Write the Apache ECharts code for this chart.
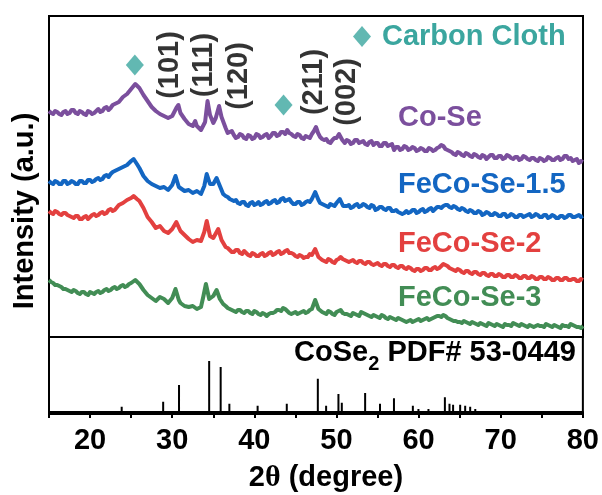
<!DOCTYPE html>
<html>
<head>
<meta charset="utf-8">
<script src="https://cdn.jsdelivr.net/npm/echarts@6/dist/echarts.min.js"></script>
<style>
html, body { margin: 0; padding: 0; background: #fff; }
#xrd { width: 602px; height: 495px; }
</style>
</head>
<body>
<div id="xrd"></div>
<script>
// XRD patterns, [2theta, intensity a.u.]
let coSe = [[15,226],[15.5,223],[16,225],[16.5,222],[17,226],[17.5,224],[18,227],[18.5,223],[19,225],[19.5,222],[20,225],[20.5,224],[21,228],[21.5,226],[22,230],[22.5,229],[23,233],[23.5,235],[24,240],[24.5,243],[25,248],[25.5,253],[26,249],[26.5,242],[27,236],[27.5,230],[28,226],[28.5,223],[29,221],[29.5,219],[30,221],[30.5,229],[30.75,232],[31,224],[31.5,218],[32,213],[32.5,211],[32.8,216],[33,211],[33.5,207],[34,215],[34.3,236],[34.6,222],[35,214],[35.3,219],[35.7,231],[36,220],[36.5,209],[37,205],[37.5,202],[38,200],[38.5,202],[39,198],[39.5,201],[40,199],[40.5,202],[41,200],[41.5,203],[42,201],[42.5,204],[43,202],[43.5,205],[44,207],[44.5,203],[45,200],[45.5,202],[46,198],[46.5,200],[47,203],[47.5,210],[48,200],[48.5,197],[49,195],[49.5,197],[50,199],[50.3,203],[50.7,197],[51,194],[51.5,196],[52,194],[52.5,197],[53,195],[53.5,193],[54,195],[54.5,192],[55,194],[55.5,191],[56,194],[56.5,192],[57,187],[57.5,190],[58,188],[58.5,190],[59,188],[59.5,189],[60,187],[60.5,188],[61,186],[61.5,188],[62,187],[62.5,190],[63,191],[63.5,187],[64,185],[64.5,182],[65,184],[65.5,181],[66,183],[66.5,180],[67,182],[67.5,179],[68,181],[68.5,180],[69,182],[69.5,179],[70,181],[70.5,179],[71,181],[71.5,178],[72,180],[72.5,178],[73,180],[73.5,177],[74,179],[74.5,176],[75,178],[75.5,177],[76,179],[76.5,177],[77,180],[77.5,178],[78,181],[78.5,179],[79,177],[79.5,174],[80,175]];
// noise read between the half-degree points
let coSeFine = [[15.25,224],[15.75,226],[16.25,223],[16.75,225],[17.25,223],[17.75,227],[18.25,224],[18.75,226],[19.25,223],[19.75,226],[20.25,223],[20.75,226],[21.25,225],[21.75,229],[22.25,227],[22.75,232],[36.75,204],[37.25,206],[37.75,199],[38.25,203],[38.75,199],[39.25,202],[39.75,198],[40.25,203],[40.75,199],[41.25,202],[41.75,199],[42.25,204],[42.75,201],[43.25,205],[43.75,203],[44.25,204],[44.75,201],[45.25,203],[45.75,199],[46.25,201],[46.75,199],[47.25,206],[47.75,204],[48.25,198],[48.75,198],[49.25,194],[49.75,199],[51.25,197],[51.75,193],[52.25,197],[52.75,194],[53.25,196],[53.75,192],[54.25,196],[54.75,194],[55.25,191],[55.75,194],[56.25,191],[56.75,193],[57.25,190],[57.75,187],[58.25,191],[58.75,187],[59.25,190],[59.75,186],[60.25,189],[60.75,186],[61.25,189],[61.75,186],[62.25,189],[62.75,192],[63.25,188],[63.75,186],[64.25,183],[64.75,185],[65.25,182],[65.75,184],[66.25,181],[66.75,183],[67.25,180],[67.75,182],[68.25,178],[68.75,182],[69.25,179],[69.75,181],[70.25,178],[70.75,182],[71.25,179],[71.75,180],[72.25,177],[72.75,181],[73.25,178],[73.75,179],[74.25,177],[74.75,179],[75.25,176],[75.75,180],[76.25,177],[76.75,179],[77.25,177],[77.75,181],[78.25,178],[78.75,176],[79.25,178],[79.75,176]];

let feCoSe15 = [[15,156],[15.5,153],[16,155],[16.5,153],[17,156],[17.5,154],[18,155],[18.5,153],[19,156],[19.5,154],[20,157],[20.5,156],[21,159],[21.5,158],[22,162],[22.5,163],[23,166],[23.5,168],[24,170],[24.5,172],[25,176],[25.3,178],[25.7,173],[26,169],[26.5,161],[27,156],[27.5,153],[28,151],[28.5,149],[29,150],[29.5,147],[30,152],[30.4,161],[30.8,150],[31,148],[31.5,146],[32,147],[32.5,144],[33,146],[33.5,143],[33.9,151],[34.2,163],[34.6,153],[35,153],[35.4,159],[35.8,151],[36.2,143],[36.5,141],[37,138],[37.5,136],[38,134],[38.5,135],[39,132],[39.5,134],[40,132],[40.5,135],[41,133],[41.5,136],[42,134],[42.5,137],[43,135],[43.5,139],[44,137],[44.5,135],[45,133],[45.5,135],[46,133],[46.5,136],[47,138],[47.4,145],[47.8,137],[48,134],[48.5,132],[49,130],[49.5,132],[50,134],[50.4,138],[50.8,131],[51,130],[51.5,132],[52,130],[52.5,133],[53,131],[53.5,132],[54,129],[54.5,131],[55,128],[55.5,130],[56,127],[56.5,129],[57,126],[57.5,125],[58,123],[58.5,126],[59,125],[59.5,127],[60,125],[60.5,128],[61,126],[61.5,129],[62,128],[62.5,130],[63,131],[63.5,132],[64,129],[64.5,130],[65,127],[65.5,128],[66,125],[66.5,126],[67,124],[67.5,125],[68,123],[68.5,124],[69,122],[69.5,123],[70,121],[70.5,123],[71,121],[71.5,122],[72,120],[72.5,122],[73,121],[73.5,123],[74,121],[74.5,122],[75,120],[75.5,122],[76,120],[76.5,121],[77,119],[77.5,121],[78,120],[78.5,122],[79,120],[79.5,122],[80,121]];
let feCoSe15Fine = [[15.25,154],[15.75,156],[16.25,153],[16.75,156],[17.25,153],[17.75,156],[18.25,153],[18.75,156],[19.25,154],[19.75,157],[20.25,155],[20.75,158],[21.25,157],[21.75,161],[22.25,160],[22.75,165],[36.75,140],[37.25,137],[37.75,137],[38.25,133],[38.75,135],[39.25,131],[39.75,135],[40.25,133],[40.75,132],[41.25,135],[41.75,133],[42.25,136],[42.75,134],[43.25,138],[43.75,136],[44.25,138],[44.75,133],[45.25,135],[45.75,132],[46.25,135],[46.75,135],[48.25,133],[48.75,131],[49.25,133],[49.75,131],[51.25,131],[51.75,129],[52.25,132],[52.75,130],[53.25,133],[53.75,130],[54.25,132],[54.75,127],[55.25,130],[55.75,128],[56.25,129],[56.75,126],[57.25,127],[57.75,124],[58.25,124],[58.75,124],[59.25,127],[59.75,124],[60.25,127],[60.75,125],[61.25,128],[61.75,126],[62.25,130],[62.75,129],[63.25,132],[63.75,130],[64.25,131],[64.75,128],[65.25,129],[65.75,126],[66.25,127],[66.75,124],[67.25,126],[67.75,122],[68.25,125],[68.75,122],[69.25,124],[69.75,121],[70.25,123],[70.75,120],[71.25,123],[71.75,120],[72.25,122],[72.75,120],[73.25,122],[73.75,120],[74.25,123],[74.75,120],[75.25,122],[75.75,119],[76.25,122],[76.75,119],[77.25,121],[77.75,119],[78.25,122],[78.75,120],[79.25,121],[79.75,120]];

let feCoSe2 = [[15,126],[15.5,123],[16,125],[16.5,122],[17,124],[17.5,121],[18,119],[18.5,121],[19,118],[19.5,121],[20,120],[20.5,123],[21,122],[21.5,125],[22,124],[22.5,128],[23,127],[23.5,132],[24,134],[24.5,137],[25,139],[25.3,141],[25.7,138],[26,136],[26.5,129],[27,120],[27.5,115],[28,109],[28.5,111],[29,106],[29.5,104],[30,108],[30.5,115],[31,106],[31.5,102],[32,98],[32.5,95],[33,97],[33.5,96],[33.9,105],[34.2,116],[34.6,101],[35,99],[35.6,108],[36,97],[36.5,90],[37,87],[37.5,85],[38,87],[38.5,83],[39,84],[39.5,81],[40,83],[40.5,81],[41,84],[41.5,82],[42,85],[42.5,83],[43,86],[43.5,84],[44,87],[44.5,84],[45,81],[45.5,82],[46,79],[46.5,80],[47,82],[47.4,88],[47.8,80],[48,78],[48.5,76],[49,78],[49.5,75],[50,77],[50.5,80],[51,77],[51.5,75],[52,77],[52.5,74],[53,76],[53.5,73],[54,75],[54.5,72],[55,74],[55.5,71],[56,73],[56.5,70],[57,72],[57.5,69],[58,71],[58.5,68],[59,69],[59.5,66],[60,68],[60.5,67],[61,69],[61.5,67],[62,70],[62.5,69],[63,73],[63.5,71],[64,68],[64.5,66],[65,67],[65.5,64],[66,66],[66.5,63],[67,65],[67.5,62],[68,64],[68.5,61],[69,63],[69.5,61],[70,62],[70.5,60],[71,62],[71.5,60],[72,61],[72.5,59],[73,61],[73.5,59],[74,60],[74.5,58],[75,60],[75.5,58],[76,59],[76.5,57],[77,59],[77.5,57],[78,59],[78.5,57],[79,58],[79.5,56],[80,57]];
let feCoSe2Fine = [[15.25,124],[15.75,126],[16.25,123],[16.75,124],[17.25,122],[17.75,120],[18.25,121],[18.75,118],[19.25,120],[19.75,118],[20.25,122],[20.75,121],[21.25,124],[21.75,123],[22.25,127],[22.75,126],[36.75,89],[37.25,85],[37.75,87],[38.25,84],[38.75,86],[39.25,82],[39.75,84],[40.25,81],[40.75,83],[41.25,81],[41.75,84],[42.25,82],[42.75,85],[43.25,83],[43.75,86],[44.25,84],[44.75,83],[45.25,80],[45.75,81],[46.25,80],[46.75,83],[48.25,77],[48.75,75],[49.25,77],[49.75,74],[50.25,78],[50.75,78],[51.25,76],[51.75,76],[52.25,75],[52.75,76],[53.25,74],[53.75,75],[54.25,73],[54.75,73],[55.25,72],[55.75,73],[56.25,71],[56.75,72],[57.25,70],[57.75,71],[58.25,69],[58.75,70],[59.25,67],[59.75,68],[60.25,66],[60.75,69],[61.25,67],[61.75,69],[62.25,68],[62.75,71],[63.25,72],[63.75,69],[64.25,67],[64.75,68],[65.25,65],[65.75,66],[66.25,64],[66.75,65],[67.25,63],[67.75,64],[68.25,62],[68.75,63],[69.25,61],[69.75,63],[70.25,60],[70.75,62],[71.25,60],[71.75,62],[72.25,59],[72.75,61],[73.25,59],[73.75,61],[74.25,58],[74.75,60],[75.25,58],[75.75,60],[76.25,57],[76.75,59],[77.25,57],[77.75,59],[78.25,57],[78.75,58],[79.25,56],[79.75,58]];

let feCoSe3 = [[15,57],[15.5,54],[16,52],[16.5,50],[17,48],[17.5,46],[18,47],[18.5,44],[19,45],[19.5,43],[20,45],[20.5,43],[21,46],[21.5,45],[22,48],[22.5,47],[23,50],[23.5,49],[24,52],[24.5,51],[25,54],[25.5,57],[26,53],[26.5,47],[27,42],[27.5,39],[28,36],[28.5,40],[29,38],[29.5,34],[30,39],[30.4,48],[30.8,37],[31,34],[31.5,31],[32,30],[32.5,31],[33,28],[33.5,30],[33.8,41],[34.1,53],[34.5,38],[35,41],[35.4,47],[35.8,38],[36.2,33],[36.5,31],[37,28],[37.5,26],[38,27],[38.5,25],[39,26],[39.5,24],[40,26],[40.5,23],[41,24],[41.5,21],[42,24],[42.5,25],[43,27],[43.5,29],[44,26],[44.5,23],[45,25],[45.5,24],[46,26],[46.5,25],[47,28],[47.4,37],[47.8,28],[48,26],[48.5,24],[49,26],[49.5,23],[50,25],[50.5,27],[51,23],[51.5,22],[52,24],[52.5,22],[53,25],[53.5,23],[54,21],[54.5,22],[55,20],[55.5,22],[56,19],[56.5,20],[57,18],[57.5,19],[58,17],[58.5,15],[59,17],[59.5,16],[60,18],[60.5,17],[61,19],[61.5,18],[62,20],[62.5,21],[63,22],[63.5,19],[64,17],[64.5,16],[65,15],[65.5,16],[66,14],[66.5,15],[67,13],[67.5,14],[68,12],[68.5,14],[69,12],[69.5,13],[70,11],[70.5,13],[71,12],[71.5,14],[72,12],[72.5,13],[73,11],[73.5,12],[74,10],[74.5,12],[75,11],[75.5,13],[76,11],[76.5,12],[77,10],[77.5,12],[78,11],[78.5,13],[79,11],[79.5,10],[80,11]];
let feCoSe3Fine = [[15.25,55],[15.75,52],[16.25,51],[16.75,48],[17.25,47],[17.75,45],[18.25,46],[18.75,43],[19.25,45],[19.75,42],[20.25,44],[20.75,45],[21.25,44],[21.75,47],[22.25,46],[22.75,49],[23.25,48],[23.75,51],[24.25,50],[24.75,53],[36.75,29],[37.25,27],[37.75,25],[38.25,27],[38.75,24],[39.25,26],[39.75,23],[40.25,25],[40.75,22],[41.25,23],[41.75,23],[42.25,24],[42.75,27],[43.25,26],[43.75,28],[44.25,24],[44.75,24],[45.25,23],[45.75,25],[46.25,24],[46.75,27],[48.25,25],[48.75,23],[49.25,25],[49.75,22],[50.25,26],[50.75,24],[51.25,23],[51.75,21],[52.25,23],[52.75,21],[53.25,24],[53.75,22],[54.25,20],[54.75,21],[55.25,19],[55.75,21],[56.25,18],[56.75,19],[57.25,17],[57.75,18],[58.25,16],[58.75,16],[59.25,15],[59.75,17],[60.25,16],[60.75,18],[61.25,17],[61.75,19],[62.25,21],[62.75,20],[63.25,21],[63.75,18],[64.25,16],[64.75,15],[65.25,14],[65.75,15],[66.25,13],[66.75,14],[67.25,12],[67.75,13],[68.25,11],[68.75,13],[69.25,11],[69.75,12],[70.25,10],[70.75,12],[71.25,11],[71.75,13],[72.25,11],[72.75,12],[73.25,10],[73.75,11],[74.25,11],[74.75,11],[75.25,10],[75.75,12],[76.25,10],[76.75,11],[77.25,9],[77.75,11],[78.25,10],[78.75,12],[79.25,10],[79.75,9]];

// CoSe2 PDF# 53-0449 reference lines
let pdfPos = [23.85,28.9,30.83,34.5,35.9,36.96,40.4,43.95,47.73,48.74,50.24,50.65,53.49,55.3,57.0,59.3,59.98,61.2,63.2,63.76,64.2,65.06,65.67,66.28,66.9];
let pdfInt = [10,20,53,100,88,16,12,16,65,12,35,18,37,16,27,12,6,6,29,16,14,14,12,10,6];

// carbon cloth peaks and hkl marks
let carbonPeaks = [[25.45,272],[43.55,232]];
let hklNames = ['(101)','(111)','(120)','(211)','(002)'];
let hklAt = [[29.7,272],[33.9,272],[38.1,261],[47.2,255],[51.3,245]];

let sampleNames = ['Co-Se','FeCo-Se-1.5','FeCo-Se-2','FeCo-Se-3'];
let sampleColors = ['#7b4f9d','#1366c2','#e3403f','#428d55'];
let teal = '#3ba69f';
let FONT = '"Liberation Sans", Arial, sans-serif';

let sticks = [];
for (let i = 0; i < pdfPos.length; i++) {
    sticks.push([pdfPos[i], 0], [pdfPos[i], pdfInt[i]], [pdfPos[i], 0]);
}

let patterns = [
    coSe.concat(coSeFine),
    feCoSe15.concat(feCoSe15Fine),
    feCoSe2.concat(feCoSe2Fine),
    feCoSe3.concat(feCoSe3Fine)
].map(d => d.sort((a, b) => a[0] - b[0]));

let series = patterns.map((d, i) => ({
    name: sampleNames[i],
    type: 'line',
    xAxisIndex: 0,
    yAxisIndex: 0,
    data: d,
    showSymbol: false,
    symbol: 'none',
    lineStyle: { color: sampleColors[i], width: 4, join: 'round' },
    itemStyle: { color: sampleColors[i] }
}));

series.push({
    name: 'PDF',
    type: 'line',
    xAxisIndex: 1,
    yAxisIndex: 1,
    data: sticks,
    showSymbol: false,
    symbol: 'none',
    lineStyle: { color: '#000', width: 2 }
});

series.push({
    name: 'Carbon Cloth',
    type: 'scatter',
    xAxisIndex: 0,
    yAxisIndex: 0,
    symbol: 'diamond',
    symbolSize: [18, 21],
    itemStyle: { color: teal },
    data: carbonPeaks
});

series.push({
    name: 'hkl',
    type: 'scatter',
    xAxisIndex: 0,
    yAxisIndex: 0,
    symbolSize: 1,
    itemStyle: { color: 'rgba(0,0,0,0)' },
    label: {
        show: true,
        position: 'inside',
        rotate: 90,
        align: 'center',
        verticalAlign: 'middle',
        formatter: p => p.name,
        fontSize: 29,
        fontWeight: 'bold',
        fontFamily: FONT,
        color: '#000'
    },
    data: hklNames.map((n, i) => ({ name: n, value: hklAt[i] }))
});

let labelY = [118, 185, 244, 298];
let graphics = sampleNames.map((n, i) => ({
    type: 'text',
    x: 398,
    y: labelY[i],
    style: {
        text: n,
        fill: sampleColors[i],
        font: 'bold 29px ' + FONT,
        align: 'left',
        verticalAlign: 'middle'
    }
}));

graphics.push({
    type: 'text',
    x: 25,
    y: 211,
    rotation: Math.PI / 2,
    style: {
        text: 'Intensity (a.u.)',
        fill: '#000',
        font: 'bold 29px ' + FONT,
        align: 'center',
        verticalAlign: 'middle'
    }
});

graphics.push({
    type: 'text',
    x: 326,
    y: 478,
    style: {
        text: '{b|2}{t|θ}{b| (degree)}',
        align: 'center',
        verticalAlign: 'middle',
        rich: {
            b: { fontSize: 29, fontWeight: 'bold', fontFamily: FONT, fill: '#000' },
            t: { fontSize: 30, fontWeight: 'bold', fontFamily: '"Liberation Serif", serif', fill: '#000' }
        }
    }
});

graphics.push({
    type: 'text',
    x: 576,
    y: 356,
    style: {
        text: '{a|CoSe}{s|2}{a| PDF# 53-0449}',
        align: 'right',
        verticalAlign: 'middle',
        rich: {
            a: { fontSize: 29, fontWeight: 'bold', fontFamily: FONT, fill: '#000', lineHeight: 29, verticalAlign: 'top' },
            s: { fontSize: 20, fontWeight: 'bold', fontFamily: FONT, fill: '#000', lineHeight: 36, verticalAlign: 'bottom' }
        }
    }
});

let option = {
    animation: false,
    backgroundColor: '#fff',
    grid: [
        { left: 49, right: 19, top: 16, height: 321, show: true, borderColor: '#000', borderWidth: 2 },
        { left: 49, right: 19, top: 337, height: 77, show: true, borderColor: '#000', borderWidth: 2 }
    ],
    xAxis: [
        { gridIndex: 0, type: 'value', min: 15, max: 80, show: false },
        {
            gridIndex: 1, type: 'value', min: 15, max: 80, interval: 5,
            axisLine: { lineStyle: { color: '#000', width: 2 } },
            axisTick: { length: 6, lineStyle: { color: '#000', width: 2 } },
            splitLine: { show: false },
            axisLabel: {
                interval: 0,
                formatter: v => (v % 10 === 0 ? String(v) : ''),
                fontSize: 29, fontWeight: 'bold', fontFamily: FONT, color: '#000', margin: 12
            }
        }
    ],
    yAxis: [
        { gridIndex: 0, type: 'value', min: 0, max: 321, show: false },
        { gridIndex: 1, type: 'value', min: -4, max: 147, show: false }
    ],
    legend: {
        data: ['Carbon Cloth'],
        left: 353,
        top: 22,
        padding: 0,
        icon: 'diamond',
        itemWidth: 18,
        itemHeight: 21,
        textStyle: { fontSize: 29, fontWeight: 'bold', fontFamily: FONT, color: teal, padding: [0, 0, 0, 6] }
    },
    series: series,
    graphic: graphics
};

let chartXrd = echarts.init(document.getElementById('xrd'));
chartXrd.setOption(option);
</script>
</body>
</html>
